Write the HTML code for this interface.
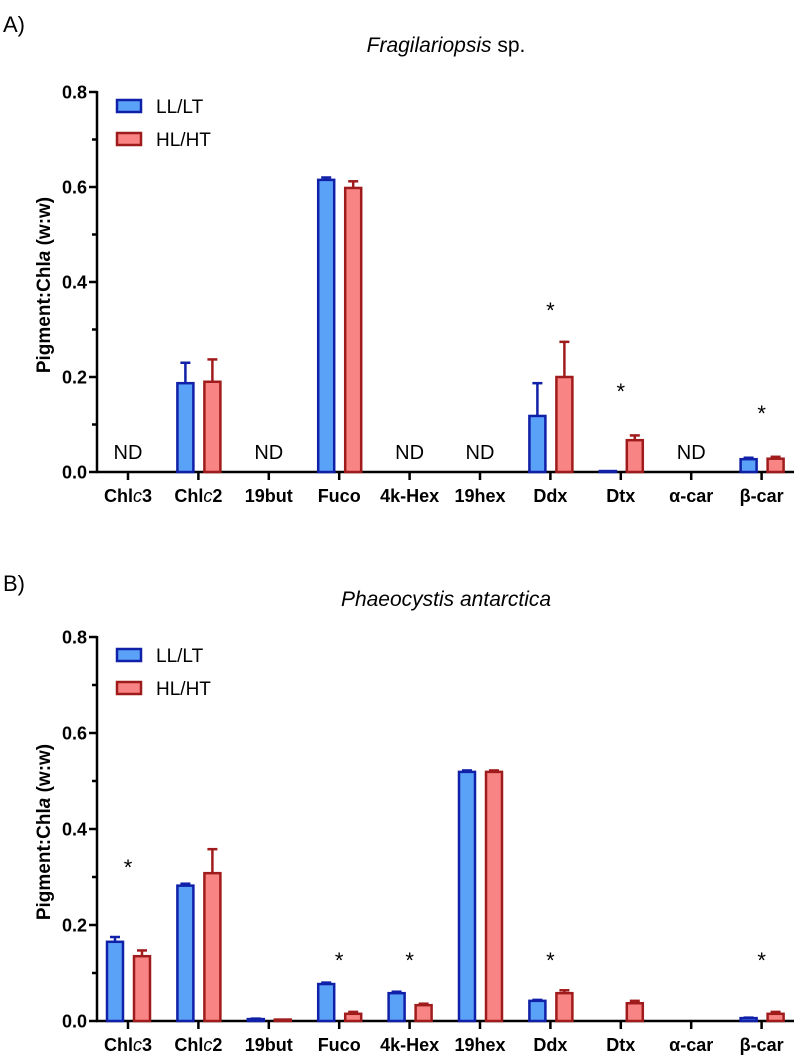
<!DOCTYPE html>
<html><head><meta charset="utf-8"><style>
html,body{margin:0;padding:0;background:#fff;}
svg{display:block;font-family:"Liberation Sans",Arial,sans-serif;}
</style></head><body>
<svg id="chart" width="800" height="1057" viewBox="0 0 800 1057"></svg>
<script>
const categories = ["Chlc3","Chlc2","19but","Fuco","4k-Hex","19hex","Ddx","Dtx","α-car","β-car"];
const aLow = [null,0.187,null,0.615,null,null,0.118,0.002,null,0.027];
const aLowErr = [0,0.043,0,0.005,0,0,0.069,0,0,0.003];
const aHigh = [null,0.19,null,0.598,null,null,0.2,0.067,null,0.028];
const aHighErr = [0,0.047,0,0.014,0,0,0.074,0.01,0,0.004];
const aStars = [0,0,0,0,0,0,1,1,0,1];
const aND = [1,0,1,0,1,1,0,0,1,0];
const bLow = [0.165,0.282,0.004,0.077,0.058,0.519,0.042,null,null,0.006];
const bLowErr = [0.01,0.004,0.001,0.003,0.003,0.003,0.002,0,0,0.001];
const bHigh = [0.135,0.308,0.003,0.015,0.033,0.519,0.058,0.037,null,0.015];
const bHighErr = [0.012,0.05,0,0.004,0.003,0.003,0.006,0.005,0,0.004];
const bStars = [1,0,0,1,1,0,1,0,0,1];
const bND = [0,0,0,0,0,0,0,0,0,0];
const yTicks = [0,0.2,0.4,0.6,0.8];
const yMinor = [0.1,0.3,0.5,0.7];

const NS="http://www.w3.org/2000/svg";
const svg=document.getElementById('chart');
function mk(tag,attrs,parent,text){const e=document.createElementNS(NS,tag);for(const k in attrs)e.setAttribute(k,attrs[k]);if(text!==undefined)e.textContent=text;(parent||svg).appendChild(e);return e;}

function panel(off,pLabel,labelY,titleParts,titleY,low,lowErr,high,highErr,stars,nd,starY,pid){
  const y0=472+off, pxPerUnit=475+(off?5:0);
  const y=v=>y0-v*pxPerUnit;
  const x=i=>128+70.4*i;
  const g=mk('g',{});
  
  
  let t=mk('text',{x:3,y:labelY,'font-size':22},g,pLabel);
  
  t=mk('text',{x:446,y:titleY,'font-size':21,'text-anchor':'middle'},g);
  
  mk('tspan',{'font-style':'italic'},t,titleParts[0]);
  if(titleParts[1])mk('tspan',{},t,titleParts[1]);
  let ax=mk('line',{x1:97,y1:y(0.8)-1,x2:97,y2:y0+1,stroke:'#000','stroke-width':2.5},g);
  
  yTicks.forEach(v=>{
    mk('line',{x1:89,x2:97,y1:y(v),y2:y(v),stroke:'#000','stroke-width':2.5},g);
    const tl=mk('text',{x:87,y:y(v)+6.5,'font-size':18,'font-weight':'bold','text-anchor':'end'},g,v.toFixed(1));
    
  });
  yMinor.forEach(v=>mk('line',{x1:92,x2:97,y1:y(v),y2:y(v),stroke:'#000','stroke-width':2.5},g));
  const yl=mk('text',{transform:`translate(50,${y(0.4)+3}) rotate(-90)`,'font-size':19,'font-weight':'bold','text-anchor':'middle'},g);
  
  mk('tspan',{},yl,'Pigment:Chl');mk('tspan',{'font-style':'italic'},yl,'a');mk('tspan',{},yl,' (w:w)');
  ax=mk('line',{x1:96,y1:y0,x2:794,y2:y0,stroke:'#000','stroke-width':2.5},g);
  
  categories.forEach((c,i)=>{
    mk('line',{x1:x(i),x2:x(i),y1:y0,y2:y0+8,stroke:'#000','stroke-width':2.5},g);
    const cl=mk('text',{x:x(i),y:y0+30,'font-size':18,'font-weight':'bold','text-anchor':'middle'},g);
    
    if(c.startsWith('Chlc')){mk('tspan',{},cl,'Chl');mk('tspan',{'font-style':'italic','font-weight':'normal'},cl,'c');mk('tspan',{},cl,c.slice(4));}
    else cl.textContent=c;
  });
  function bar(i,v,e,dx,fill,stroke,name){
    if(v===null)return;
    const bx=x(i)+dx, top=y(v);
    if(e>0){
      mk('line',{x1:bx+8,x2:bx+8,y1:top,y2:y(v+e),stroke:stroke,'stroke-width':2.5},g);
      mk('line',{x1:bx+3,x2:bx+13,y1:y(v+e),y2:y(v+e),stroke:stroke,'stroke-width':2.5},g);
    }
    const r=mk('rect',{x:bx,y:top,width:16,height:Math.max(y0-top,0.5),fill:fill,stroke:stroke,'stroke-width':2.5},g);
    
  }
  categories.forEach((c,i)=>{
    bar(i,low[i],lowErr[i],-21,'#5aa2f8','#1020a8',pid+'-bar-ll-'+i);
    bar(i,high[i],highErr[i],6,'#f88484','#a01c1c',pid+'-bar-hl-'+i);
    if(stars[i]){const s=mk('text',{x:x(i),y:starY[i]+off+11,'font-size':22,'text-anchor':'middle'},g,'*');
      }
    if(nd[i]){const n=mk('text',{x:x(i),y:y0-13,'font-size':20,'text-anchor':'middle'},g,'ND');
      }
  });
  const lg=mk('g',{},g);
  
  mk('rect',{x:117,y:100+off,width:24,height:12,fill:'#5aa2f8',stroke:'#1020a8','stroke-width':2.5},lg);
  mk('text',{x:156,y:113+off,'font-size':19},lg,'LL/LT');
  mk('rect',{x:117,y:133+off,width:24,height:12,fill:'#f88484',stroke:'#a01c1c','stroke-width':2.5},lg);
  mk('text',{x:156,y:146+off,'font-size':19},lg,'HL/HT');
}
const starYA=[0,0,0,0,0,0,307,388,0,410];
const starYB=[864-549,0,0,957-549,957-549,0,957-549,0,0,957-549];
panel(0,'A)',32,['Fragilariopsis',' sp.'],52,aLow,aLowErr,aHigh,aHighErr,aStars,aND,starYA,'panel-a');
panel(549,'B)',591,['Phaeocystis antarctica',''],606,bLow,bLowErr,bHigh,bHighErr,bStars,bND,starYB,'panel-b');
</script>
</body></html>
